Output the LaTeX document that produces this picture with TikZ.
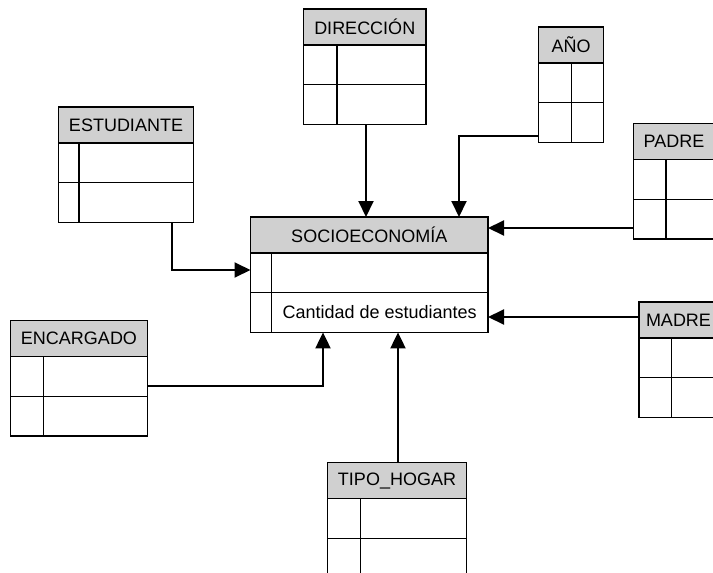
\documentclass[tikz,border=0pt]{standalone}
\usepackage{fontspec}
\setmainfont{Liberation Sans}
\usetikzlibrary{arrows.meta}
\definecolor{hdrgray}{RGB}{208,208,208}

% One entity table: header with title, two rows, key column divider.
% #1 name, #2 left, #3 top, #4 right, #5 divider x, #6 title
\newcommand\ertable[6]{%
  \node[hdrbox, anchor=north west, minimum width={(#4)-(#2)}] (#1) at (#2,#3) {#6};
  \node[rowbox, anchor=north west, minimum width={(#4)-(#2)}] (#1-r1) at (#1.south west) {};
  \node[rowbox, anchor=north west, minimum width={(#4)-(#2)}] (#1-r2) at (#1-r1.south west) {};
  \draw[boxline] (#1.south west -| #5,0) -- (#1-r2.south west -| #5,0);
}

\begin{document}
\begin{tikzpicture}[x=1pt,y=-1pt,
  every node/.style={font=\fontsize{18}{21}\selectfont},
  boxline/.style={line width=1.2pt, draw=black},
  hdrbox/.style={boxline, fill=hdrgray, inner sep=0pt, outer sep=0pt, minimum height=36pt},
  rowbox/.style={boxline, fill=white, inner sep=0pt, outer sep=0pt, minimum height=39.7pt},
  conn/.style={line width=2pt, -{Triangle[length=16pt,width=15pt]}}]
\useasboundingbox (0,0) rectangle (713,573);
\clip (0,0) rectangle (713,573);

% central fact table
\ertable{soc}{250.5}{217}{488}{271.5}{SOCIOECONOMÍA}
\node (soc-qty) at (379.7,312.5) {Cantidad de estudiantes};

% dimension tables
\ertable{dir}{303.5}{9}{426}{337}{DIRECCIÓN}
\ertable{ano}{538.5}{27}{603.5}{571.5}{AÑO}
\ertable{est}{58.5}{107}{193.5}{79}{ESTUDIANTE}
\ertable{enc}{10.5}{320.5}{147.5}{43.5}{ENCARGADO}
\ertable{tipo}{327.5}{462.5}{466.5}{360.5}{TIPO\_HOGAR}
\ertable{padre}{633.5}{123.5}{714.5}{666}{PADRE}
\ertable{madre}{639}{302}{718}{671.7}{MADRE}

% connector end points
\coordinate (dir-out) at (dir-r2.south -| 366,0);
\coordinate (soc-dir) at (soc.north -| 366,0);
\coordinate (ano-out) at (ano-r2.west |- 0,136);
\coordinate (soc-ano) at (soc.north -| 459,0);
\coordinate (est-out) at (est-r2.south -| 172,0);
\coordinate (soc-est) at (soc.west |- 0,270);
\coordinate (enc-out) at (enc-r1.east |- 0,386);
\coordinate (soc-enc) at (soc-r2.south -| 323,0);
\coordinate (tipo-out) at (tipo.north -| 398,0);
\coordinate (soc-tipo) at (soc-r2.south -| 398,0);
\coordinate (padre-out) at (padre-r2.west |- 0,228);
\coordinate (soc-padre) at (soc.east |- 0,228);
\coordinate (madre-out) at (madre.west |- 0,317);
\coordinate (soc-madre) at (soc.east |- 0,317);

% relationships
\draw[conn] (dir-out) -- (soc-dir);
\draw[conn] (ano-out) -| (soc-ano);
\draw[conn] (est-out) |- (soc-est);
\draw[conn] (enc-out) -| (soc-enc);
\draw[conn] (tipo-out) -- (soc-tipo);
\draw[conn] (padre-out) -- (soc-padre);
\draw[conn] (madre-out) -- (soc-madre);
\end{tikzpicture}
\end{document}
